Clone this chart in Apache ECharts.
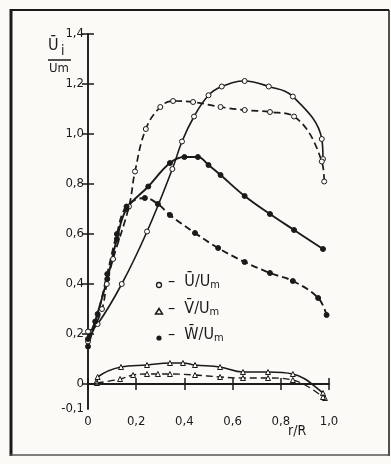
<!DOCTYPE html>
<html><head><meta charset="utf-8">
<script src="https://cdn.jsdelivr.net/npm/echarts@6/dist/echarts.min.js"></script>
<style>html,body{margin:0;padding:0;background:#fbfaf6;}#c{width:391px;height:464px;}</style>
</head><body><div id="c"></div>
<script>
// r/R positions and values
const uSolid = [[0.0,0.21],[0.04,0.24],[0.14,0.40],[0.245,0.61],[0.35,0.86],[0.39,0.97],[0.44,1.07],[0.50,1.155],[0.555,1.19],[0.65,1.212],[0.75,1.19],[0.85,1.15],[0.97,0.98],[0.975,0.90]];
const uDashed = [[0.0,0.17],[0.058,0.30],[0.078,0.40],[0.104,0.50],[0.17,0.71],[0.195,0.85],[0.24,1.02],[0.30,1.108],[0.353,1.132],[0.436,1.128],[0.55,1.108],[0.65,1.096],[0.755,1.088],[0.855,1.07],[0.97,0.89],[0.98,0.81]];
const wSolid = [[0.0,0.15],[0.03,0.25],[0.08,0.42],[0.12,0.58],[0.16,0.70],[0.25,0.79],[0.34,0.884],[0.40,0.908],[0.456,0.908],[0.50,0.876],[0.55,0.836],[0.65,0.752],[0.755,0.68],[0.855,0.616],[0.975,0.54]];
const wDashed = [[0.0,0.18],[0.04,0.28],[0.08,0.44],[0.12,0.60],[0.16,0.71],[0.236,0.744],[0.29,0.72],[0.34,0.676],[0.444,0.604],[0.54,0.544],[0.65,0.488],[0.755,0.444],[0.85,0.412],[0.955,0.344],[0.99,0.276]];
const vSolid = [[0.035,0.01],[0.04,0.028],[0.137,0.068],[0.245,0.076],[0.34,0.084],[0.394,0.084],[0.444,0.076],[0.548,0.068],[0.643,0.048],[0.747,0.048],[0.85,0.04],[0.975,-0.036],[0.983,-0.056]];
const vDashed = [[0.037,0.004],[0.133,0.02],[0.187,0.036],[0.245,0.04],[0.29,0.04],[0.34,0.04],[0.444,0.036],[0.548,0.028],[0.643,0.024],[0.747,0.024],[0.85,0.016],[0.975,-0.052]];
const yTicks = [0,0.2,0.4,0.6,0.8,1.0,1.2,1.4];
const yLabels = [-0.1,0,0.2,0.4,0.6,0.8,1.0,1.2,1.4];
const xTicks = [0,0.2,0.4,0.6,0.8,1.0];
const legendNames = ['Ū/U', 'V̄/U', 'W̄/U'];

const FONT = 'DejaVu Sans Condensed';
const INK = '#1a1a1a';
const BG = '#fbfaf6';
const fmt = v => Math.abs(v) < 1e-9 ? '0' : v.toFixed(1).replace('.', ',');

function ser(name, data, dashed, symbol, filled, w) {
  return {
    name, type: 'line', data, smooth: 0.4,
    symbol, symbolSize: 5,
    lineStyle: {color: INK, width: w, type: dashed ? [7, 4] : 'solid'},
    itemStyle: {color: filled ? INK : BG, borderColor: INK, borderWidth: 1},
    z: 3
  };
}
const chart = echarts.init(document.getElementById('c'));
const axisCommon = {
  axisLine: {show: true, lineStyle: {color: INK, width: 1.5}},
  splitLine: {show: false}
};
const rich = {a: {fontFamily: FONT, fontSize: 16, fill: INK, color: INK}, b: {fontFamily: FONT, fontSize: 11, fill: INK, color: INK, padding: [7, 0, 0, 0]}};
const legendG = [];
legendNames.forEach((n, i) => {
  const y = 285 + i * 26.5;
  if (i === 0) legendG.push({type: 'circle', shape: {cx: 159, cy: y, r: 2.5}, style: {fill: BG, stroke: INK, lineWidth: 1.3}});
  if (i === 1) legendG.push({type: 'polygon', shape: {points: [[159, y - 3], [155.5, y + 2.5], [162.5, y + 2.5]]}, style: {fill: BG, stroke: INK, lineWidth: 1.5}});
  if (i === 2) legendG.push({type: 'circle', shape: {cx: 159, cy: y, r: 2.6}, style: {fill: INK}});
  legendG.push({type: 'text', left: 168, top: y - 11, style: {text: '{a|–  ' + n + '}{b|m}', rich}});
});
chart.setOption({
  backgroundColor: BG,
  animation: false,
  grid: {left: 88, right: 62, top: 34, bottom: 55},
  xAxis: [
    Object.assign({type: 'value', min: 0, max: 1, interval: 0.2, position: 'bottom',
      axisTick: {show: true, inside: true, length: 6, lineStyle: {color: INK, width: 1.5}, customValues: xTicks},
      axisLabel: {color: INK, fontFamily: FONT, fontSize: 13, margin: 6, formatter: fmt, customValues: xTicks}
    }, axisCommon),
    Object.assign({type: 'value', min: 0, max: 1, interval: 0.2, position: 'top',
      axisTick: {show: true, inside: true, length: 6, lineStyle: {color: INK, width: 1.5}, customValues: xTicks},
      axisLabel: {show: false}
    }, axisCommon)
  ],
  yAxis: [
    Object.assign({type: 'value', min: -0.1, max: 1.4, interval: 0.1, position: 'left',
      axisTick: {show: true, inside: true, length: 6, lineStyle: {color: INK, width: 1.5}, customValues: yTicks},
      axisLabel: {color: INK, fontFamily: FONT, fontSize: 13, margin: 4, formatter: fmt, customValues: yLabels}
    }, axisCommon),
    Object.assign({type: 'value', min: -0.1, max: 1.4, interval: 0.1, position: 'right',
      axisTick: {show: true, inside: true, length: 6, lineStyle: {color: INK, width: 1.5}, customValues: yTicks},
      axisLabel: {show: false}
    }, axisCommon)
  ],
  series: [
    ser('Ū/Um a', uSolid, false, 'circle', false, 1.6),
    ser('Ū/Um b', uDashed, true, 'circle', false, 1.7),
    ser('W̄/Um a', wSolid, false, 'circle', true, 1.9),
    ser('W̄/Um b', wDashed, true, 'circle', true, 1.9),
    ser('V̄/Um a', vSolid, false, 'triangle', false, 1.6),
    Object.assign(ser('V̄/Um b', vDashed, true, 'triangle', false, 1.3), {
      markLine: {silent: true, symbol: 'none', label: {show: false},
        lineStyle: {color: INK, width: 1.5, type: 'solid'}, data: [{yAxis: 0}]}
    })
  ],
  graphic: [
    {type: 'line', shape: {x1: 11, y1: 9, x2: 11, y2: 456}, style: {stroke: INK, lineWidth: 3}},
    {type: 'line', shape: {x1: 10, y1: 10, x2: 389, y2: 10}, style: {stroke: INK, lineWidth: 2}},
    {type: 'line', shape: {x1: 389, y1: 10, x2: 389, y2: 456}, style: {stroke: INK, lineWidth: 1.5}},
    {type: 'line', shape: {x1: 10, y1: 455, x2: 389, y2: 455}, style: {stroke: '#555', lineWidth: 1.5}},
    {type: 'text', left: 48, top: 38, style: {text: 'Ū', fill: INK, font: '16px "' + FONT + '"'}},
    {type: 'text', left: 61, top: 44, style: {text: 'i', fill: INK, font: '14px "' + FONT + '"'}},
    {type: 'line', shape: {x1: 48, y1: 60, x2: 71, y2: 60}, style: {stroke: INK, lineWidth: 1.5}},
    {type: 'text', left: 49, top: 62, style: {text: 'Um', fill: INK, font: '13px "' + FONT + '"'}},
    {type: 'text', left: 288, top: 424, style: {text: 'r/R', fill: INK, font: '14px "' + FONT + '"'}}
  ].concat(legendG)
});
</script></body></html>
